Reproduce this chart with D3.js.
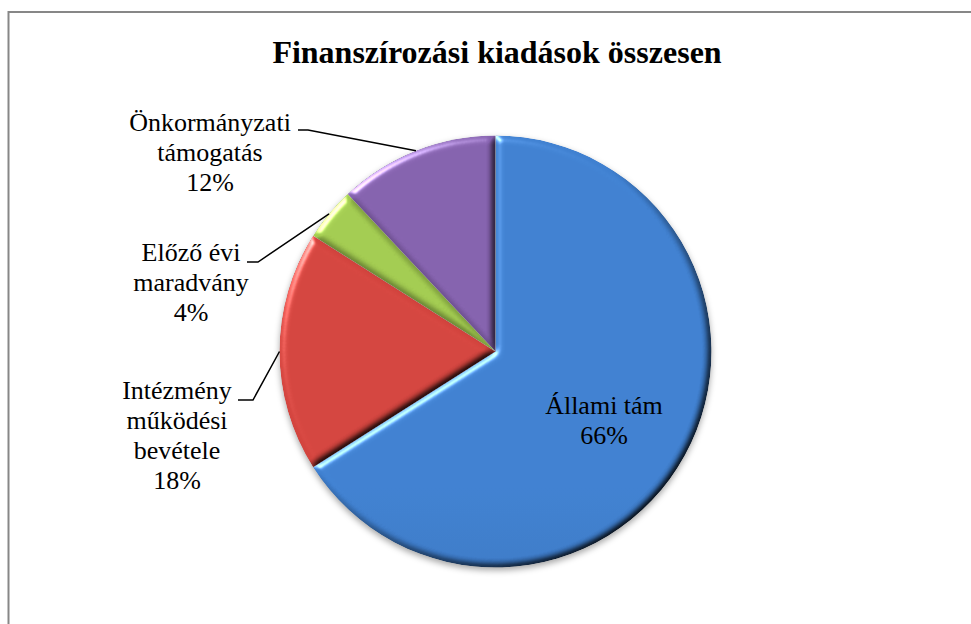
<!DOCTYPE html>
<html>
<head>
<meta charset="utf-8">
<script src="https://cdn.jsdelivr.net/npm/d3@7"></script>
<style>
  body { margin: 0; background: #ffffff; }
</style>
</head>
<body>
<script>

// chart data
var title = "Finanszírozási kiadások összesen";
var categories = ["Állami tám", "Intézmény működési bevétele", "Előző évi maradvány", "Önkormányzati támogatás"];
var values = [66, 18, 4, 12];
var label_lines = [["Állami tám"], ["Intézmény", "működési", "bevétele"], ["Előző évi", "maradvány"], ["Önkormányzati", "támogatás"]];

svg_width = 971;
svg_height = 624;
var serif = "'Liberation Serif', 'Times New Roman', 'DejaVu Serif', serif";

// pie placement
var cx = 495.5;
var cy = 351.5;
var radius = 216;

// slice colours, top and bottom of the gradient
var colors_top = ["#3f80d0", "#d3443e", "#a2cb50", "#8461ad"];
var colors_bottom = ["#3160a0", "#a73331", "#8ab240", "#644888"];

// label anchors: center x, first baseline and the start of the leader line
var label_pos = [
  {x: 604, y: 414, leader: null},
  {x: 177, y: 399, leader: [238, 400, 253]},
  {x: 191, y: 261, leader: [247, 262, 258]},
  {x: 210, y: 131, leader: [298, 130, 308]}
];
var line_height = 30;

var svg = d3.select("body")
    .append("svg")
    .attr("width", svg_width)
    .attr("height", svg_height);

var defs = svg.append("defs");

// gradients for each slice, https://developer.mozilla.org/en-US/docs/Web/SVG/Element/linearGradient
for (var i = 0; i < values.length; i++) {
  var grad = defs.append("linearGradient")
      .attr("id", "grad" + i)
      .attr("gradientUnits", "userSpaceOnUse")
      .attr("x1", 0).attr("y1", cy - radius)
      .attr("x2", 0).attr("y2", cy + radius);
  grad.append("stop").attr("offset", "0%").attr("stop-color", colors_top[i]);
  grad.append("stop").attr("offset", "100%").attr("stop-color", colors_bottom[i]);
}

// bevel filter, light from top left
var bevel = defs.append("filter")
    .attr("id", "bevel")
    .attr("color-interpolation-filters", "sRGB")
    .attr("x", "-10%").attr("y", "-10%")
    .attr("width", "120%").attr("height", "120%");
bevel.append("feGaussianBlur")
    .attr("in", "SourceAlpha")
    .attr("stdDeviation", 3.5)
    .attr("result", "blur");
bevel.append("feDiffuseLighting")
    .attr("in", "blur")
    .attr("surfaceScale", 3)
    .attr("diffuseConstant", 1.55)
    .attr("lighting-color", "#ffffff")
    .attr("result", "diffuse")
  .append("feDistantLight")
    .attr("azimuth", 225)
    .attr("elevation", 40);
bevel.append("feComposite")
    .attr("in", "SourceGraphic")
    .attr("in2", "diffuse")
    .attr("operator", "arithmetic")
    .attr("k1", 1)
    .attr("result", "shaded");
bevel.append("feSpecularLighting")
    .attr("in", "blur")
    .attr("surfaceScale", 3)
    .attr("specularConstant", 0.6)
    .attr("specularExponent", 40)
    .attr("lighting-color", "#ffffff")
    .attr("result", "spec")
  .append("feDistantLight")
    .attr("azimuth", 225)
    .attr("elevation", 40);
bevel.append("feComposite")
    .attr("in", "spec")
    .attr("in2", "SourceAlpha")
    .attr("operator", "in")
    .attr("result", "specIn");
bevel.append("feComposite")
    .attr("in", "shaded")
    .attr("in2", "specIn")
    .attr("operator", "arithmetic")
    .attr("k2", 1)
    .attr("k3", 1)
    .attr("result", "lit");
bevel.append("feComposite")
    .attr("in", "lit")
    .attr("in2", "SourceAlpha")
    .attr("operator", "in");

// soft shadow under the whole pie
var shadow = defs.append("filter")
    .attr("id", "shadow")
    .attr("color-interpolation-filters", "sRGB")
    .attr("x", "-10%").attr("y", "-10%")
    .attr("width", "120%").attr("height", "120%");
shadow.append("feDropShadow")
    .attr("dx", 0)
    .attr("dy", 3)
    .attr("stdDeviation", 3)
    .attr("flood-color", "#000000")
    .attr("flood-opacity", 0.35);

// chart area border (only top and left edges show in the picture)
svg.append("path")
    .attr("d", "M8.5," + svg_height + "V12H" + svg_width)
    .attr("fill", "none")
    .attr("stroke", "#878787")
    .attr("stroke-width", 2);

// title
svg.append("text")
    .attr("x", 497)
    .attr("y", 63)
    .attr("text-anchor", "middle")
    .attr("font-family", serif)
    .attr("font-size", 32)
    .attr("font-weight", "bold")
    .attr("fill", "#000000")
    .text(title);

var pie = d3.pie()
    .sort(null)
    .value(function(d) { return d; });

var arcs = pie(values);

var arc = d3.arc()
    .innerRadius(0)
    .outerRadius(radius);

// arc used to find the point on the rim for leader lines
var rim = d3.arc()
    .innerRadius(radius)
    .outerRadius(radius);

var pie_group = svg.append("g")
    .attr("transform", "translate(" + cx + "," + cy + ")")
    .attr("filter", "url(#shadow)");

pie_group.selectAll("path")
    .data(arcs)
    .enter()
    .append("path")
    .attr("d", arc)
    .attr("fill", function(d, i) { return "url(#grad" + i + ")"; })
    .attr("filter", "url(#bevel)");

// leader lines
var total = d3.sum(values);
arcs.forEach(function(d, i) {
  var p = label_pos[i];
  if (!p.leader) return;
  var end = rim.centroid(d);
  svg.append("polyline")
      .attr("points", p.leader[0] + "," + p.leader[1] + " " + p.leader[2] + "," + p.leader[1] + " " + (cx + end[0]) + "," + (cy + end[1]))
      .attr("fill", "none")
      .attr("stroke", "#000000")
      .attr("stroke-width", 1.5);
});

// labels: category lines followed by the percentage
arcs.forEach(function(d, i) {
  var p = label_pos[i];
  var lines = label_lines[i].concat([Math.round(d.data / total * 100) + "%"]);
  var t = svg.append("text")
      .attr("text-anchor", "middle")
      .attr("font-family", serif)
      .attr("font-size", 26)
      .attr("fill", "#000000");
  lines.forEach(function(line, j) {
    t.append("tspan")
        .attr("x", p.x)
        .attr("y", p.y + j * line_height)
        .text(line);
  });
});

</script>
</body>
</html>
